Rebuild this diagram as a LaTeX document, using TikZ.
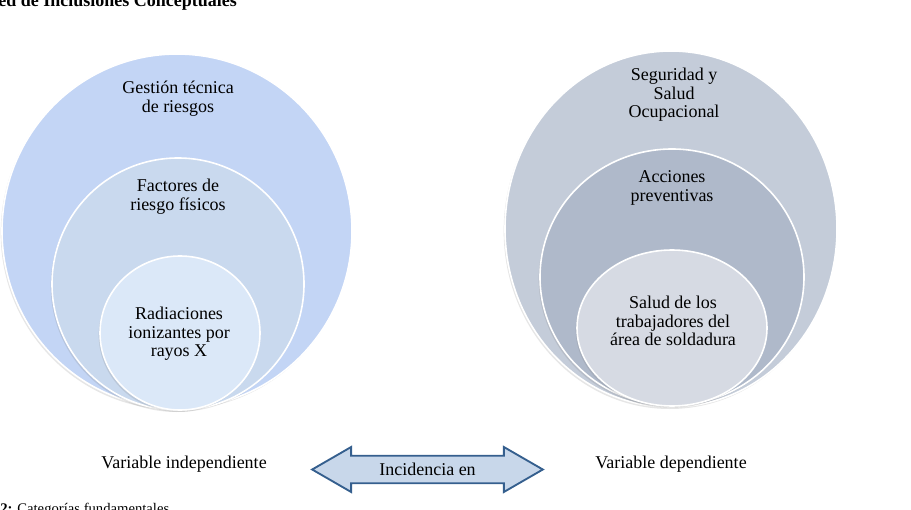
\documentclass[tikz,border=0pt]{standalone}
\usepackage{fontspec}
\setmainfont{Liberation Serif}
\usepackage{tikz}
\usetikzlibrary{positioning,shapes.geometric,shapes.arrows,shadows}

\definecolor{indepA}{HTML}{C3D5F5}
\definecolor{indepB}{HTML}{C9D9EE}
\definecolor{indepC}{HTML}{DBE8F8}
\definecolor{depA}{HTML}{C4CCD9}
\definecolor{depB}{HTML}{AFB9CA}
\definecolor{depC}{HTML}{D6DAE3}
\definecolor{arrowFill}{HTML}{C8D7EA}
\definecolor{arrowLine}{HTML}{355F8E}

\begin{document}
\begin{tikzpicture}[x=0.75pt, y=-0.75pt,
  every node/.style={font=\fontsize{13.5}{14}\selectfont},
  ring/.style={ellipse, draw=white, line width=1.2pt, inner sep=0pt,
    drop shadow={shadow xshift=-1pt, shadow yshift=-1.5pt, opacity=0.2}},
  ringtext/.style={align=center, inner sep=0pt}]
  \useasboundingbox (0,0) rectangle (911,510);
  \clip (0,0) rectangle (911,510);
  % nested targets
  \foreach \n/\x/\y/\w/\h/\c in {iOut/177/231/262.5/265.5/indepA,
    iMid/178/284/189/189/indepB, iIn/180/333/120/115.5/indepC,
    dOut/671/229/249/267/depA, dMid/672/277/198/192/depB,
    dIn/672/328/142.5/117/depC}{
    \node[ring, fill=\c, minimum width=\w pt, minimum height=\h pt]
      (\n) at (\x,\y) {};}
  \foreach \n/\x/\y/\t in {tiOut/178/99/{Gesti\'on t\'ecnica\\de riesgos},
    tiMid/178/197/{Factores de\\riesgo f\'isicos},
    tiIn/179/334/{Radiaciones\\ionizantes por\\rayos X},
    tdOut/674/95/{Seguridad y\\Salud\\Ocupacional},
    tdMid/672/188/{Acciones\\preventivas},
    tdIn/673/321/{Salud de los\\trabajadores del\\\'area de soldadura}}{
    \node[ringtext] (\n) at (\x,\y) {\t};}
  % variables and link
  \node (vInd) at (184,464) {Variable independiente};
  \node (vDep) at (671,464) {Variable dependiente};
  \node[double arrow, draw=arrowLine, fill=arrowFill, line width=1.4pt,
    minimum height=173pt, minimum width=33.75pt,
    double arrow head extend=6pt, double arrow tip angle=60, inner sep=4pt]
    (inc) at (427.5,469.5) {Incidencia en};
  % cut title and caption
  \node[anchor=base west, inner sep=0pt,
    font=\fontsize{13.5}{14}\selectfont\bfseries] (title) at (-2,7)
    {ed de Inclusiones Conceptuales};
  \node[anchor=base west, inner sep=0pt,
    font=\fontsize{11}{12}\selectfont] (caption) at (0,513)
    {\textbf{2:} Categor\'ias fundamentales};
\end{tikzpicture}
\end{document}
